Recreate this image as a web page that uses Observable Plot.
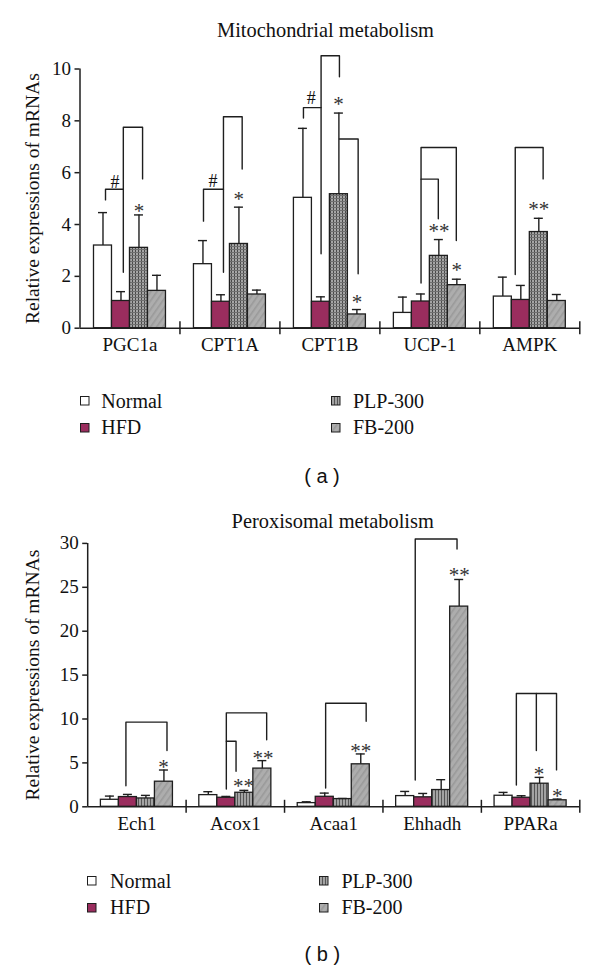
<!DOCTYPE html>
<html>
<head>
<meta charset="utf-8">
<script src="https://cdn.jsdelivr.net/npm/d3@7"></script>
<script src="https://cdn.jsdelivr.net/npm/@observablehq/plot@0.6"></script>
<style>
  html, body { margin: 0; padding: 0; background: #ffffff; }
  #root { position: relative; width: 600px; height: 971px; color: #111; overflow: hidden; }
  .abs { position: absolute; white-space: nowrap; }
  .abs svg { display: block; }
  #root svg text { font-family: 'Liberation Serif', 'Times New Roman', serif; }
</style>
</head>
<body>
<svg width="0" height="0" style="position:absolute;left:0;top:0">
  <defs>
    <pattern id="pGrid" width="3" height="3" patternUnits="userSpaceOnUse">
      <rect width="3" height="3" fill="#a6a6a6"/>
      <rect x="0" y="0" width="1" height="3" fill="#4a4a4a"/>
      <rect x="0" y="0" width="3" height="1" fill="#707070"/>
    </pattern>
    <pattern id="pVert" width="3" height="3" patternUnits="userSpaceOnUse">
      <rect width="3" height="3" fill="#a3a3a3"/>
      <rect x="0" y="0" width="1" height="3" fill="#555555"/>
    </pattern>
    <pattern id="pDiag" width="5" height="5" patternUnits="userSpaceOnUse" patternTransform="rotate(35)">
      <rect width="5" height="5" fill="#adadad"/>
      <rect x="0" y="0" width="1.6" height="5" fill="#9a9a9a"/>
    </pattern>
  </defs>
</svg>
<div id="root"></div>
<script>
// ---------- shared ----------
const groups = ["Normal", "HFD", "PLP-300", "FB-200"];

// ---------- panel (a): Mitochondrial metabolism ----------
const titleA = "Mitochondrial metabolism";
const genesA = ["PGC1a", "CPT1A", "CPT1B", "UCP-1", "AMPK"];
const normalA = [3.19, 2.47, 5.03, 0.59, 1.22];
const normalSdA = [1.27, 0.91, 2.68, 0.61, 0.75];
const hfdA = [1.05, 1.02, 1.02, 1.03, 1.09];
const hfdSdA = [0.36, 0.27, 0.19, 0.29, 0.56];
const plpA = [3.10, 3.25, 5.17, 2.79, 3.71];
const plpSdA = [1.27, 1.42, 3.13, 0.63, 0.53];
const fbA = [1.44, 1.30, 0.53, 1.66, 1.05];
const fbSdA = [0.60, 0.17, 0.19, 0.23, 0.25];
const ticksA = [0, 2, 4, 6, 8, 10];
// brackets: [gene, fromGroup, fromY, toGroup, toY, topY]
const bracketsA = [
  [0, 0.14, 4.95, 1.13, 5.36, 5.36],
  [0, 1.13, 2.16, 2.20, 5.76, 7.75],
  [1, 0.03, 4.13, 1.14, 5.36, 5.36],
  [1, 1.14, 2.16, 2.18, 6.14, 8.16],
  [2, 0.03, 8.11, 1.01, 8.51, 8.51],
  [2, 1.01, 2.87, 2.03, 9.70, 10.51],
  [2, 2.03, 7.30, 3.07, 2.10, 7.30],
  [3, 1.01, 1.74, 2.97, 3.38, 6.97],
  [3, 1.01, 5.75, 1.97, 4.22, 5.75],
  [4, 0.69, 2.07, 2.24, 5.76, 6.97]
];
// significance marks: [gene, group position, y (glyph centre), text]
const signsA = [
  [0, 0.67, 5.63, "#"], [0, 2.00, 4.66, "*"],
  [1, 0.56, 5.69, "#"], [1, 1.99, 5.12, "*"],
  [2, 0.46, 8.90, "#"], [2, 1.98, 8.80, "*"], [2, 3.00, 1.16, "*"],
  [3, 2.01, 3.90, "**"], [3, 3.00, 2.39, "*"],
  [4, 2.00, 4.73, "**"]
];

// ---------- panel (b): Peroxisomal metabolism ----------
const titleB = "Peroxisomal metabolism";
const genesB = ["Ech1", "Acox1", "Acaa1", "Ehhadh", "PPARa"];
const normalB = [0.80, 1.33, 0.42, 1.22, 1.26];
const normalSdB = [0.42, 0.39, 0.15, 0.53, 0.38];
const hfdB = [1.11, 1.03, 1.14, 1.08, 1.03];
const hfdSdB = [0.30, 0.15, 0.42, 0.44, 0.23];
const plpB = [0.95, 1.60, 0.88, 1.91, 2.63];
const plpSdB = [0.35, 0.27, 0.07, 1.18, 0.72];
const fbB = [2.86, 4.35, 4.84, 22.80, 0.74];
const fbSdB = [1.33, 0.91, 1.18, 3.09, 0.14];
const ticksB = [0, 5, 10, 15, 20, 25, 30];
const bracketsB = [
  [0, 0.89, 2.40, 3.17, 6.40, 9.64],
  [1, 1.00, 2.02, 3.24, 7.63, 10.70],
  [1, 1.00, 7.47, 1.54, 4.04, 7.47],
  [2, 1.05, 2.13, 3.30, 9.75, 11.80],
  [3, 0.56, 3.05, 2.88, 29.36, 30.50],
  [4, 0.71, 2.48, 2.94, 4.20, 12.90],
  [4, 1.82, 6.40, 1.82, 12.90, 12.90]
];
const signsB = [
  [0, 2.98, 4.95, "*"],
  [1, 1.96, 2.78, "**"], [1, 3.04, 6.00, "**"],
  [2, 3.00, 6.75, "**"],
  [3, 3.00, 26.80, "**"],
  [4, 1.96, 4.12, "*"], [4, 2.98, 1.64, "*"]
];

const yLabel = "Relative expressions of mRNAs";
const HFD_COLOR = "#9a2d5e";
const INK = "#1e1e1e";
const SERIF = "'Liberation Serif', 'Times New Roman', serif";

const root = document.getElementById("root");

function chart(cfg) {
  const BW = cfg.bw;
  const cx = (i, g) => i + (g - 1.5) * BW;
  const series = [cfg.normal, cfg.hfd, cfg.plp, cfg.fb];
  const sds = [cfg.normalSd, cfg.hfdSd, cfg.plpSd, cfg.fbSd];
  const rows = [];
  cfg.genes.forEach((gene, i) => {
    groups.forEach((grp, g) => rows.push({i, g, gene, grp, v: series[g][i], sd: sds[g][i]}));
  });
  const pts = [];
  cfg.brackets.forEach(([i, ga, ya, gb, yb, top], k) => {
    pts.push({k, x: cx(i, ga), y: ya}, {k, x: cx(i, ga), y: top},
             {k, x: cx(i, gb), y: top}, {k, x: cx(i, gb), y: yb});
  });
  const signs = cfg.signs.map(([i, g, y, t]) => ({x: cx(i, g), y, t}));
  const fills = ["#ffffff", HFD_COLOR, cfg.plpFill, "url(#pDiag)"];

  const marks = [];
  groups.forEach((grp, g) => {
    marks.push(Plot.rect(rows.filter(d => d.g === g), {
      x1: d => cx(d.i, d.g) - BW / 2, x2: d => cx(d.i, d.g) + BW / 2,
      y1: () => 0, y2: "v", fill: fills[g], stroke: INK, strokeWidth: 1.3
    }));
  });
  marks.push(
    Plot.ruleX(rows, {x: d => cx(d.i, d.g), y1: "v", y2: d => d.v + d.sd, stroke: INK, strokeWidth: 1.4}),
    Plot.ruleY(rows, {y: d => d.v + d.sd, x1: d => cx(d.i, d.g), x2: d => cx(d.i, d.g),
                      insetLeft: -4.5, insetRight: -4.5, stroke: INK, strokeWidth: 1.4}),
    Plot.line(pts, {x: "x", y: "y", z: "k", stroke: INK, strokeWidth: 1.4, curve: "linear"}),
    Plot.text(signs.filter(d => d.t === "#"), {x: "x", y: "y", text: "t", fontSize: 18, fontFamily: SERIF,
              lineAnchor: "bottom", dy: 6}),
    Plot.text(signs.filter(d => d.t !== "#"), {x: "x", y: "y", text: "t", fontSize: 21, fontFamily: SERIF,
              fill: "#333", lineAnchor: "bottom", dy: 10.5}),
    Plot.ruleY([0], {stroke: INK, strokeWidth: 1.5}),
    Plot.ruleX([-0.5], {stroke: INK, strokeWidth: 1.5}),
    Plot.ruleX([0.5, 1.5, 2.5, 3.5, 4.5], {x: d => d, y1: () => 0, y2: () => 0,
               insetTop: -6.5, insetBottom: -6.5, stroke: INK, strokeWidth: 1.5}),
    Plot.axisY(cfg.ticks, {tickSize: 5, tickPadding: 4, fontSize: 19, fontFamily: SERIF,
               stroke: INK, strokeWidth: 1.5, label: null}),
    Plot.text(cfg.genes, {x: (d, i) => i, frameAnchor: "bottom", lineAnchor: "bottom", dy: 23,
              fontSize: 19, fontFamily: SERIF}),
    Plot.text([yLabel], {frameAnchor: "left", textAnchor: "middle", lineAnchor: "middle",
              dx: cfg.labelDx, rotate: -90, fontSize: 19.5, fontFamily: SERIF})
  );

  const svg = Plot.plot({
    width: 600,
    height: cfg.height,
    marginTop: cfg.marginTop,
    marginBottom: cfg.marginBottom,
    marginLeft: cfg.marginLeft,
    marginRight: cfg.marginRight,
    x: {domain: [-0.5, 4.5], axis: null},
    y: {domain: cfg.domain, label: null},
    style: {fontFamily: SERIF, fontSize: "19px", color: "#111", background: "transparent", overflow: "visible"},
    marks
  });
  const wrap = document.createElement("div");
  wrap.className = "abs";
  wrap.style.left = "0px";
  wrap.style.top = cfg.top + "px";
  wrap.appendChild(svg);
  root.appendChild(wrap);
}

function label(text, {x, baseline, size, sans = false, anchor = "start"}) {
  const d = document.createElement("div");
  d.className = "abs";
  d.textContent = text;
  d.style.fontFamily = sans ? "'Liberation Sans', Arial, sans-serif" : SERIF;
  d.style.fontSize = size + "px";
  d.style.lineHeight = size + "px";
  d.style.top = (baseline - (sans ? 0.8465 : 0.8375) * size) + "px";
  if (anchor === "middle") {
    d.style.left = (x - 200) + "px";
    d.style.width = "400px";
    d.style.textAlign = "center";
  } else {
    d.style.left = x + "px";
  }
  root.appendChild(d);
}

function swatch(x, y, fill) {
  const d = document.createElement("div");
  d.className = "abs";
  d.style.left = x + "px";
  d.style.top = y + "px";
  d.innerHTML = `<svg width="10" height="10"><rect x="0.5" y="0.5" width="8.5" height="8.5" fill="${fill}" stroke="${INK}" stroke-width="1"/></svg>`;
  root.appendChild(d);
}

function legend(o) {
  const fills = ["#ffffff", HFD_COLOR, "url(#pVert)", "url(#pDiag)"];
  const pos = [[o.x1, o.b1], [o.x1, o.b2], [o.x2, o.b1], [o.x2, o.b2]];
  groups.forEach((grp, g) => {
    const [sx, b] = pos[g];
    swatch(sx, b - 11, fills[g]);
    label(grp, {x: sx + o.gap, baseline: b, size: 20});
  });
}

// panel (a)
label(titleA, {x: 325.5, baseline: 36.7, size: 20.4, anchor: "middle"});
chart({
  top: 0, height: 365, marginTop: 68.5, marginBottom: 37.3, marginLeft: 79.5, marginRight: 20.7,
  domain: [0, 10], ticks: ticksA, genes: genesA, bw: 0.18,
  normal: normalA, normalSd: normalSdA, hfd: hfdA, hfdSd: hfdSdA,
  plp: plpA, plpSd: plpSdA, fb: fbA, fbSd: fbSdA,
  brackets: bracketsA, signs: signsA, plpFill: "url(#pGrid)", labelDx: -47
});
legend({x1: 79.5, x2: 331.2, b1: 407.3, b2: 434, gap: 21.8});
label("( a )", {x: 322, baseline: 483.3, size: 20, sans: true, anchor: "middle"});

// panel (b)
label(titleB, {x: 332.7, baseline: 528.3, size: 20.4, anchor: "middle"});
chart({
  top: 480, height: 360, marginTop: 62.9, marginBottom: 33.7, marginLeft: 87.2, marginRight: 20.7,
  domain: [0, 30], ticks: ticksB, genes: genesB, bw: 0.183,
  normal: normalB, normalSd: normalSdB, hfd: hfdB, hfdSd: hfdSdB,
  plp: plpB, plpSd: plpSdB, fb: fbB, fbSd: fbSdB,
  brackets: bracketsB, signs: signsB, plpFill: "url(#pVert)", labelDx: -54.5
});
legend({x1: 87.2, x2: 318.5, b1: 887.3, b2: 914, gap: 22.9});
label("( b )", {x: 322.4, baseline: 960.7, size: 20, sans: true, anchor: "middle"});
</script>
</body>
</html>
